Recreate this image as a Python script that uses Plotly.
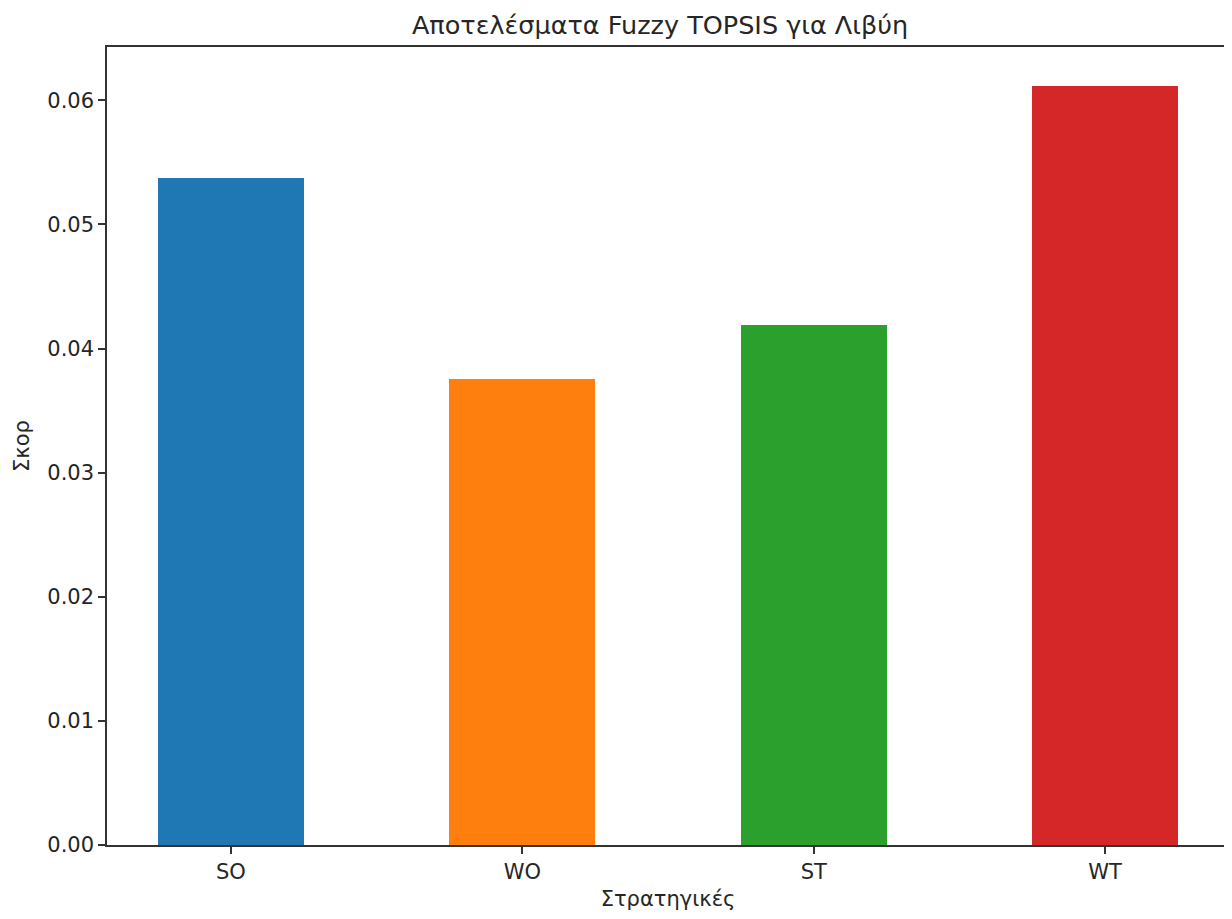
import plotly.graph_objects as go

categories = ["SO", "WO", "ST", "WT"]
scores = [0.05374, 0.03753, 0.04188, 0.06118]
colors = ["#1f77b4", "#ff7f0e", "#2ca02c", "#d62728"]

title_text = "Αποτελέσματα Fuzzy TOPSIS για Λιβύη"
x_label = "Στρατηγικές"
y_label = "Σκορ"

fig = go.Figure(go.Bar(x=categories, y=scores, marker=dict(color=colors, line=dict(width=0)), width=0.5))

W, H = 1224, 911
fig.update_layout(
    width=W, height=H,
    margin=dict(l=99, r=1, t=39, b=74),
    paper_bgcolor="white", plot_bgcolor="white",
    font=dict(family="DejaVu Sans", size=21, color="#262626"),
    title=dict(text=title_text, x=652 / W, xanchor="center",
               y=1 - 17 / H, yanchor="middle", yref="container",
               font=dict(size=25.5, color="#262626")),
    showlegend=False,
    bargap=0,
)
fig.update_xaxes(
    range=[-0.425, 3.425], showline=True, mirror=True, linecolor="#333333", linewidth=1.5,
    ticks="outside", ticklen=7, tickwidth=1.5, tickcolor="#333333", showgrid=False,
    tickfont=dict(size=21),
    title=dict(text=x_label, standoff=8, font=dict(size=21)), zeroline=False,
)
fig.update_yaxes(
    range=[0, 0.0643], dtick=0.01, tick0=0, tickformat=".2f",
    showline=True, mirror=True, linecolor="#333333", linewidth=1.5,
    ticks="outside", ticklen=7, tickwidth=1.5, tickcolor="#333333", showgrid=False,
    tickfont=dict(size=21),
    title=dict(text=y_label, standoff=12, font=dict(size=21)), zeroline=False,
)
fig.write_html("out.html")
